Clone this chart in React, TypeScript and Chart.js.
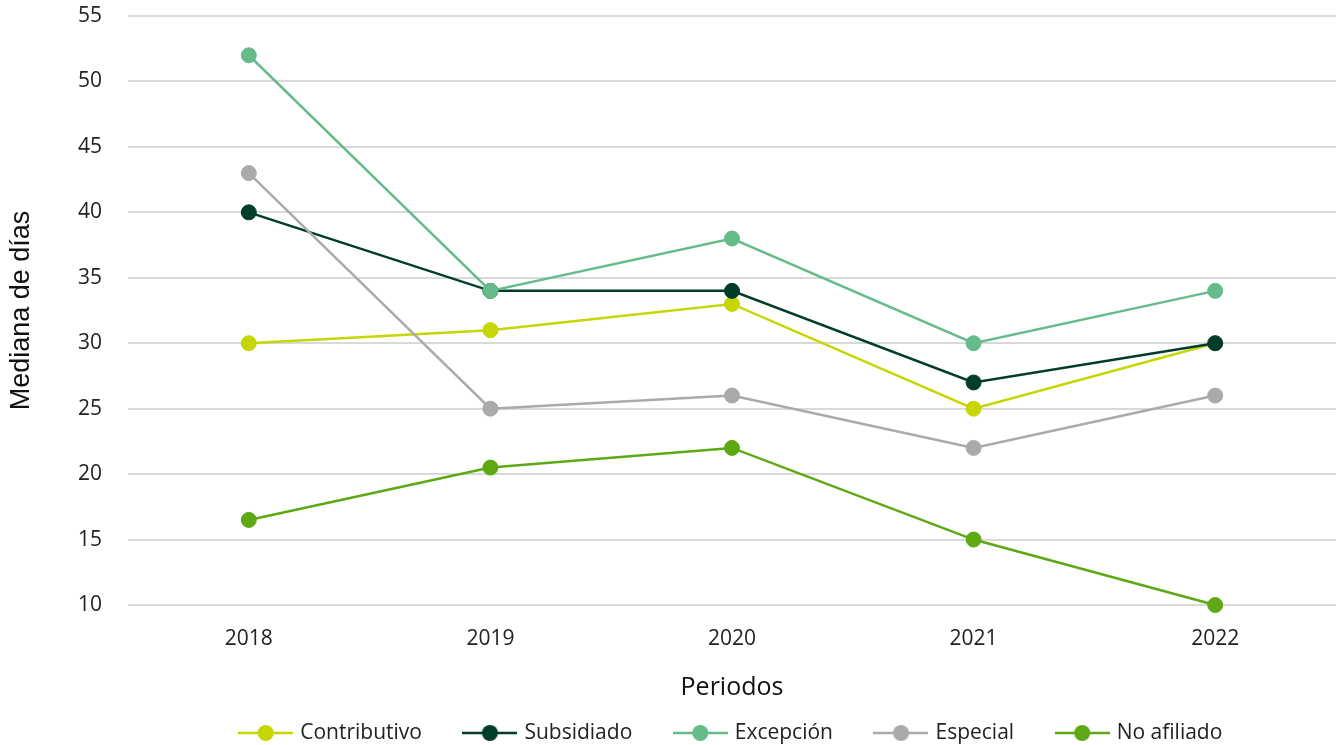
import React, { useEffect, useRef } from "react";
import { Chart, registerables } from "chart.js";

Chart.register(...registerables);

const categories = ["2018", "2019", "2020", "2021", "2022"];
const seriesNames = ["Contributivo", "Subsidiado", "Excepción", "Especial", "No afiliado"];
const contributivo = [30, 31, 33, 25, 30];
const subsidiado = [40, 34, 34, 27, 30];
const excepcion = [52, 34, 38, 30, 34];
const especial = [43, 25, 26, 22, 26];
const noAfiliado = [16.5, 20.5, 22, 15, 10];
const seriesColors = ["#c5d600", "#003d2b", "#66bb8a", "#aaaaaa", "#5ea814"];
const yMin = 10;
const yMax = 55;
const yStep = 5;
const yTitle = "Mediana de días";
const xTitle = "Periodos";

function makeLegendMarker(color: string): HTMLCanvasElement {
  const c = document.createElement("canvas");
  c.width = 55;
  c.height = 18;
  const ctx = c.getContext("2d")!;
  ctx.strokeStyle = color;
  ctx.lineWidth = 2.6;
  ctx.beginPath();
  ctx.moveTo(0, 9);
  ctx.lineTo(55, 9);
  ctx.stroke();
  ctx.fillStyle = color;
  ctx.beginPath();
  ctx.arc(27.5, 9, 8, 0, Math.PI * 2);
  ctx.fill();
  return c;
}

export default function App() {
  const ref = useRef<HTMLCanvasElement>(null);

  useEffect(() => {
    if (!ref.current) return;
    const values = [contributivo, subsidiado, excepcion, especial, noAfiliado];
    const markers = seriesColors.map(makeLegendMarker);
    const chart = new Chart(ref.current, {
      type: "line",
      data: {
        labels: categories,
        datasets: seriesNames.map((name, i) => ({
          label: name,
          data: values[i],
          borderColor: seriesColors[i],
          backgroundColor: seriesColors[i],
          pointBackgroundColor: seriesColors[i],
          pointBorderColor: seriesColors[i],
          pointBorderWidth: 1,
          pointRadius: 7.5,
          borderWidth: 2.5,
          tension: 0,
          fill: false,
          clip: false,
          order: seriesNames.length - i,
        })),
      },
      options: {
        responsive: false,
        animation: false,
        layout: { autoPadding: false, padding: { top: 16, bottom: -8.5, left: 0, right: 0 } },
        plugins: {
          tooltip: { enabled: false },
          legend: {
            position: "bottom",
            fullSize: false,
            labels: {
              usePointStyle: true,
              pointStyleWidth: 48,
              padding: 44,
              color: "#222222",
              font: { family: "'Open Sans'", size: 21 },
              sort: (a: any, b: any) => a.datasetIndex - b.datasetIndex,
              generateLabels: (chart: any) => {
                const items = Chart.defaults.plugins.legend.labels.generateLabels(chart);
                return items.map((it: any) => ({
                  ...it,
                  pointStyle: markers[it.datasetIndex],
                }));
              },
            },
          },
        },
        scales: {
          x: {
            offset: true,
            grid: {
              display: true,
              drawOnChartArea: false,
              drawTicks: true,
              tickLength: 21,
              color: "transparent",
              tickColor: "transparent",
            },
            border: { display: false },
            ticks: {
              color: "#222222",
              padding: 0,
              font: { family: "'Open Sans'", size: 21 },
            },
            title: {
              display: true,
              text: xTitle,
              color: "#111111",
              font: { family: "'Open Sans'", size: 25 },
              padding: { top: 0, bottom: -24.5 },
            },
            afterFit: (s: any) => {
              s.height = 73.5;
            },
          },
          y: {
            min: yMin,
            max: yMax,
            grid: {
              color: "#d9d9d9",
              lineWidth: 2,
              drawTicks: true,
              tickLength: 26,
              tickColor: "transparent",
            },
            border: { display: false },
            ticks: {
              stepSize: yStep,
              color: "#222222",
              padding: 0,
              font: { family: "'Open Sans'", size: 21 },
            },
            title: {
              display: true,
              text: yTitle,
              color: "#111111",
              font: { family: "'Liberation Sans'", size: 27 },
              padding: { top: 5, bottom: 0 },
            },
            afterFit: (s: any) => {
              s.width = 128;
            },
          },
        },
      },
    });
    return () => chart.destroy();
  }, []);

  return (
    <div style={{ position: "absolute", left: 0, top: 0, width: 1336, height: 745, background: "#ffffff" }}>
      <canvas ref={ref} width={1336} height={745} style={{ display: "block" }} />
    </div>
  );
}
